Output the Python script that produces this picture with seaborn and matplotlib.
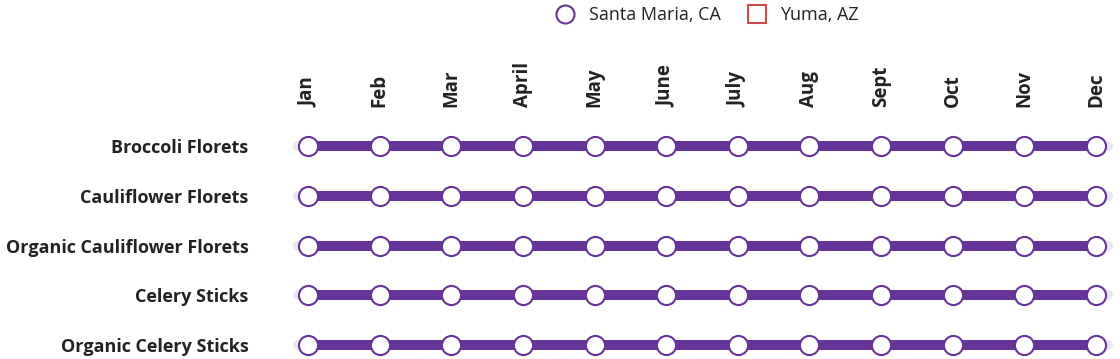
import numpy as np
import pandas as pd
import seaborn as sns
import matplotlib.pyplot as plt
from matplotlib.lines import Line2D

months = ['Jan', 'Feb', 'Mar', 'April', 'May', 'June', 'July', 'Aug', 'Sept', 'Oct', 'Nov', 'Dec']
products = ['Broccoli Florets', 'Cauliflower Florets', 'Organic Cauliflower Florets',
            'Celery Sticks', 'Organic Celery Sticks']
# months sourced from each region (1 = yes)
santa_maria = [
    [1, 1, 1, 1, 1, 1, 1, 1, 1, 1, 1, 1],
    [1, 1, 1, 1, 1, 1, 1, 1, 1, 1, 1, 1],
    [1, 1, 1, 1, 1, 1, 1, 1, 1, 1, 1, 1],
    [1, 1, 1, 1, 1, 1, 1, 1, 1, 1, 1, 1],
    [1, 1, 1, 1, 1, 1, 1, 1, 1, 1, 1, 1],
]
yuma = [[0] * 12 for _ in products]

PURPLE = '#663399'
RED = '#d04a4a'
TRACK = '#e9e8ee'
TEXT = '#222222'

sns.set_theme(style='white')
plt.rcParams['font.family'] = ['Open Sans', 'DejaVu Sans']

rows = []
for i, p in enumerate(products):
    for j, m in enumerate(months):
        rows.append({'product': p, 'row': i, 'month': j,
                     'santa_maria': santa_maria[i][j], 'yuma': yuma[i][j]})
df = pd.DataFrame(rows)
sm = df[df['santa_maria'] == 1]

fig = plt.figure(figsize=(11.2, 3.59), dpi=100)
W, H = 1120, 359
ax = fig.add_axes([290 / W, 0, (1115 - 290) / W, (359 - 120) / H])

# grey background tracks
for i in range(len(products)):
    ax.plot([-0.14, 11.17], [i, i], color=TRACK, lw=7.2, solid_capstyle='round', zorder=1)

# purple spans
sns.lineplot(data=sm, x='month', y='row', units='product', estimator=None,
             color=PURPLE, lw=7.2, solid_capstyle='butt', ax=ax, zorder=2, legend=False)
sns.scatterplot(data=sm, x='month', y='row', s=190, color='white', edgecolor=PURPLE,
                linewidth=1.5, ax=ax, zorder=3, legend=False)

ax.set_xlim(-0.251, 11.265)
ax.set_ylim(4.281, -0.5226)
ax.xaxis.tick_top()
ax.set_xticks(range(len(months)))
ax.set_xticklabels(months, rotation=90, fontsize=13.5, fontweight='bold', color=TEXT)
ax.set_yticks(range(len(products)))
ax.set_yticklabels(products, fontsize=13, fontweight='bold', color=TEXT)
ax.tick_params(axis='x', length=0, pad=9)
ax.tick_params(axis='y', length=0, pad=30)
ax.set_xlabel('')
ax.set_ylabel('')
for s in ax.spines.values():
    s.set_visible(False)

handles = [
    Line2D([], [], marker='o', ls='', markersize=13, markerfacecolor='white',
           markeredgecolor=PURPLE, markeredgewidth=1.5, label='Santa Maria, CA'),
    Line2D([], [], marker='s', ls='', markersize=13, markerfacecolor='white',
           markeredgecolor=RED, markeredgewidth=1.5, label='Yuma, AZ'),
]
fig.legend(handles=handles, loc='center', bbox_to_anchor=(703 / W, 1 - 15 / H), ncol=2,
           frameon=False, fontsize=13, handletextpad=0.3, columnspacing=1.0,
           labelcolor=TEXT)

fig.savefig('out.png', dpi=100)
